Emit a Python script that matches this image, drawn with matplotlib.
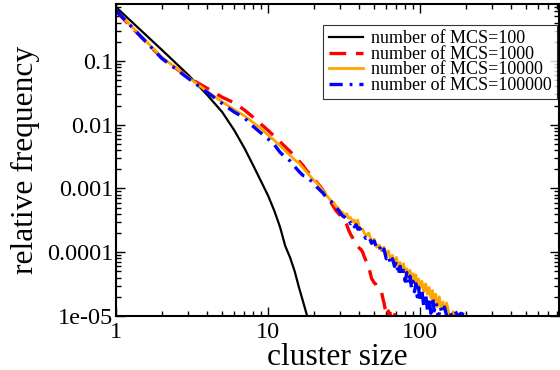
import matplotlib
matplotlib.use("Agg")
import matplotlib.pyplot as plt
from matplotlib.ticker import FixedLocator, LogLocator, NullFormatter

plt.rcParams['font.family'] = ['Liberation Serif', 'DejaVu Serif']
plt.rcParams['lines.scale_dashes'] = False

# cluster size distributions
size_100 = list(range(1, 20))
freq_100 = [0.70, 0.15, 0.060, 0.029, 0.0158, 0.0082, 0.0043, 0.0023, 0.0013,
            0.00078, 0.00045, 0.00025, 0.000125, 8.2e-5, 5.0e-5, 2.8e-5,
            1.7e-5, 1.05e-5, 6.3e-6]

size_1000 = list(range(1, 70))
freq_1000 = [0.60, 0.112, 0.055, 0.037, 0.027, 0.022, 0.017, 0.0131, 0.0102,
             0.0082, 0.0066, 0.0054, 0.0045, 0.0038, 0.0032, 0.0027, 0.0023,
             0.0019, 0.00165, 0.0014, 0.00125, 0.00108, 0.00094, 0.00080,
             0.00070, 0.00060, 0.00052, 0.00045, 0.00041, 0.00037, 0.00034,
             0.00031, 0.00027, 0.00022, 0.00019, 0.00017, 0.00015, 0.00014,
             0.000125, 0.000115, 0.00011, 0.0001, 8.5e-5, 7.5e-5, 6.8e-5,
             5.8e-5, 4.8e-5, 3.9e-5, 3.6e-5, 3.3e-5, 3.2e-5, 2.9e-5, 2.7e-5,
             2.6e-5, 2.4e-5, 2.3e-5, 1.9e-5, 1.6e-5, 1.3e-5, 1.15e-5, 1.0e-5,
             1.2e-5, 9e-6, 1.1e-5, 1.0e-5, 1.05e-5, 8e-6, 1.05e-5, 9e-6]

size_10000 = (list(range(1, 41)) + list(range(42, 101, 2))
              + list(range(103, 131, 3))
              + [134, 138, 142, 146, 150, 155, 160, 165, 170, 175])
freq_10000 = [0.62, 0.115, 0.055, 0.033, 0.0228, 0.0172, 0.0138, 0.0108,
              0.0087, 0.0069, 0.0057, 0.0047, 0.0039, 0.0033, 0.0028, 0.0025,
              0.0021, 0.0018, 0.00155, 0.00135, 0.00122, 0.00105, 0.00093,
              0.00080, 0.00072, 0.00064, 0.00060, 0.00053, 0.00049, 0.00044,
              4.2e-4, 3.8e-4, 4.0e-4, 3.4e-4, 3.5e-4, 3.0e-4, 3.2e-4, 2.6e-4,
              3.2e-4, 2.35e-4,
              2.3e-4, 1.8e-4, 2.0e-4, 1.5e-4, 1.6e-4, 1.2e-4, 1.3e-4, 1.05e-4,
              1.2e-4, 8.9e-5, 1.05e-4, 7.6e-5, 8.9e-5, 6.3e-5, 8.3e-5, 6.0e-5,
              6.9e-5, 5.0e-5, 6.6e-5, 4.8e-5, 5.5e-5, 4.0e-5, 5.2e-5, 3.8e-5,
              4.6e-5, 3.3e-5, 4.4e-5, 3.0e-5, 3.8e-5, 2.75e-5,
              3.5e-5, 2.4e-5, 3.2e-5, 2.2e-5, 2.8e-5, 1.9e-5, 2.5e-5, 1.65e-5,
              2.2e-5, 1.4e-5,
              2.0e-5, 1.25e-5, 1.65e-5, 1.2e-5, 1.6e-5, 1.1e-5, 7e-6, 1.17e-5,
              1.05e-5, 6e-6]

size_100000 = (list(range(1, 41)) + list(range(42, 101, 2))
               + list(range(103, 125, 3))
               + [128, 132, 136, 140, 145, 150, 156, 162, 170, 178, 186, 195])
freq_100000 = [0.62, 0.110, 0.053, 0.032, 0.0215, 0.0158, 0.0128, 0.0094,
               0.0074, 0.0060, 0.0049, 0.0037, 0.0031, 0.0027, 0.0022,
               0.00185, 0.0016, 0.00155, 0.00135, 0.00123, 0.00105, 0.00094,
               0.00085, 0.00074, 0.00068, 0.00063, 0.00055, 0.00050, 0.00046,
               0.00041,
               3.7e-4, 3.55e-4, 3.2e-4, 3.3e-4, 2.8e-4, 3.0e-4, 2.5e-4, 2.7e-4,
               2.3e-4, 2.4e-4,
               2.0e-4, 1.65e-4, 1.8e-4, 1.38e-4, 1.5e-4, 1.15e-4, 1.26e-4,
               9.5e-5, 1.12e-4, 7.9e-5, 8.9e-5, 6.6e-5, 7.9e-5, 6.0e-5, 7.2e-5,
               4.4e-5, 6.0e-5, 4.2e-5, 5.2e-5, 3.5e-5, 4.8e-5, 3.2e-5, 4.2e-5,
               2.75e-5, 3.5e-5, 2.4e-5, 3.2e-5, 2.0e-5, 2.8e-5, 1.65e-5,
               2.5e-5, 1.4e-5, 2.2e-5, 1.25e-5, 1.9e-5, 1.1e-5, 2.0e-5, 1.2e-5,
               1.6e-5, 8.9e-6, 1.4e-5, 1.1e-5, 1.38e-5, 1.0e-5, 1.2e-5, 1.0e-5,
               1.2e-5, 1.0e-5, 1.1e-5, 1.05e-5]

x_ticks = [1, 10, 100]
x_labels = ['1', '10', '100']
y_ticks = [1e-5, 1e-4, 1e-3, 1e-2, 1e-1]
y_labels = ['1e-05', '0.0001', '0.001', '0.01', '0.1']

fig = plt.figure(figsize=(5.6, 3.7), dpi=100)
ax = fig.add_axes([0.207, 0.146, 0.791, 0.843])

ax.plot(size_100, freq_100, color='black', lw=1.6, label='number of MCS=100')
ax.plot(size_1000, freq_1000, color='red', lw=2.4, ls=(0, (12, 7)),
        label='number of MCS=1000')
ax.plot(size_10000, freq_10000, color='orange', lw=2.0,
        label='number of MCS=10000')
ax.plot(size_100000, freq_100000, color='blue', lw=2.4,
        ls=(0, (9.5, 5, 2, 5)), label='number of MCS=100000')

ax.set_xscale('log')
ax.set_yscale('log')
ax.set_xlim(1, 820)
ax.set_ylim(1e-5, 0.78)

ax.xaxis.set_major_locator(FixedLocator(x_ticks))
ax.set_xticklabels(x_labels)
ax.yaxis.set_major_locator(FixedLocator(y_ticks))
ax.set_yticklabels(y_labels)
ax.xaxis.set_minor_locator(LogLocator(base=10, subs=range(2, 10)))
ax.yaxis.set_minor_locator(LogLocator(base=10, subs=range(2, 10)))
ax.xaxis.set_minor_formatter(NullFormatter())
ax.yaxis.set_minor_formatter(NullFormatter())

ax.tick_params(which='both', direction='in', top=True, right=True,
               labelsize=17.5, width=1.0, color='black')
ax.tick_params(which='major', length=6.5)
ax.tick_params(which='minor', length=3.5)
ax.tick_params(axis='y', pad=2)
ax.tick_params(axis='x', pad=4)
for s in ax.spines.values():
    s.set_linewidth(1.5)

ax.set_xlabel('cluster size', fontsize=22.7, labelpad=0)
ax.set_ylabel('relative frequency', fontsize=22.7, labelpad=5)

leg = ax.legend(loc='upper right', bbox_to_anchor=(0.996, 0.933),
                borderaxespad=0, fontsize=13.0, frameon=True, fancybox=False,
                edgecolor='black', handlelength=1.9, handletextpad=0.45,
                labelspacing=-0.08, borderpad=0.3)
leg.get_frame().set_linewidth(0.8)

fig.savefig('out.png', dpi=100)
